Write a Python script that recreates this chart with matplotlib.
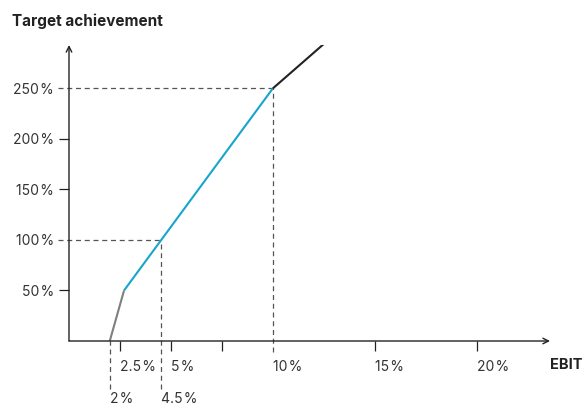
import matplotlib.pyplot as plt
import matplotlib.transforms as mtransforms

plt.rcParams['font.family'] = ['Inter', 'DejaVu Sans']

# ----- data -----
ebit_gray = [2.0, 2.7]
target_gray = [0, 50]
ebit_blue = [2.7, 10.0]
target_blue = [50, 250]
ebit_black = [10.0, 12.5]
target_black = [250, 294]

sp = '\u200a'
x_ticks = [2.5, 5, 7.5, 10, 15, 20]
x_tick_labels = ['2.5' + sp + '%', '5' + sp + '%', '', '10' + sp + '%',
                 '15' + sp + '%', '20' + sp + '%']
y_ticks = [50, 100, 150, 200, 250]
y_tick_labels = [f'{v}{sp}%' for v in y_ticks]

# marker lines (threshold, target, and the two low points)
guide_x = [4.5, 10.0]
guide_y = [100, 250]
low_x = [2.0, 4.5]
low_labels = ['2' + sp + '%', '4.5' + sp + '%']

x_max, y_max = 23.6, 293

text_col = '#333333'
fs = 10

fig = plt.figure(figsize=(5.82, 4.05), dpi=100)
W, H = 582, 405
ax = fig.add_axes([69 / W, (H - 341) / H, (550 - 69) / W, (341 - 45) / H])
ax.set_xlim(0, x_max)
ax.set_ylim(0, y_max)
for s in ax.spines.values():
    s.set_visible(False)

# axes with arrows
ax.annotate('', xy=(x_max, 0), xytext=(0, 0),
            arrowprops=dict(arrowstyle='->', lw=1.0, color='#222222',
                            shrinkA=0, shrinkB=0), annotation_clip=False)
ax.annotate('', xy=(0, y_max), xytext=(0, 0),
            arrowprops=dict(arrowstyle='->', lw=1.0, color='#222222',
                            shrinkA=0, shrinkB=0), annotation_clip=False)

# ticks
ax.set_xticks(x_ticks)
ax.set_xticklabels(x_tick_labels, ha='left', fontsize=fs, color=text_col)
ax.set_yticks(y_ticks)
ax.set_yticklabels(y_tick_labels, fontsize=fs, color=text_col)
ax.tick_params(axis='x', length=7, width=0.9, color='#222222', pad=7)
ax.tick_params(axis='y', length=7, width=0.9, color='#222222', pad=4)
for i, t in enumerate(ax.xaxis.get_major_ticks()):
    if x_ticks[i] in guide_x:
        t.tick1line.set_visible(False)
for i, t in enumerate(ax.yaxis.get_major_ticks()):
    if y_ticks[i] in guide_y:
        t.tick1line.set_visible(False)

dash = dict(color='#555555', lw=0.9, ls=(0, (4, 3)), clip_on=False)
# horizontal guides
for gx, gy in zip(guide_x, guide_y):
    ax.plot([-0.55, gx], [gy, gy], **dash)
# vertical guides
ax.plot([10.0, 10.0], [-11, 250], **dash)
ax.plot([4.5, 4.5], [-48, 100], **dash)
ax.plot([2.0, 2.0], [-48, 0], **dash)

# low labels below
trans = mtransforms.blended_transform_factory(ax.transData, fig.transFigure)
for lx, lab in zip(low_x, low_labels):
    ax.text(lx, (H - 399) / H, lab, transform=trans, ha='left', va='center',
            fontsize=fs, color=text_col)

# curve
ax.plot(ebit_gray, target_gray, color='#7f7f7f', lw=1.5, solid_capstyle='butt')
ax.plot(ebit_blue, target_blue, color='#17a5cc', lw=1.5, solid_capstyle='butt')
ax.plot(ebit_black, target_black, color='#222222', lw=1.5, solid_capstyle='butt')

fig.text(12 / W, 1 - 21 / H, 'Target achievement', fontsize=11,
         fontweight='bold', color='#222222', va='center', ha='left')
fig.text(550 / W, 1 - 365 / H, 'EBIT', fontsize=10.5, fontweight='bold',
         color='#222222', va='center', ha='left')

fig.savefig('out.png', dpi=100)
